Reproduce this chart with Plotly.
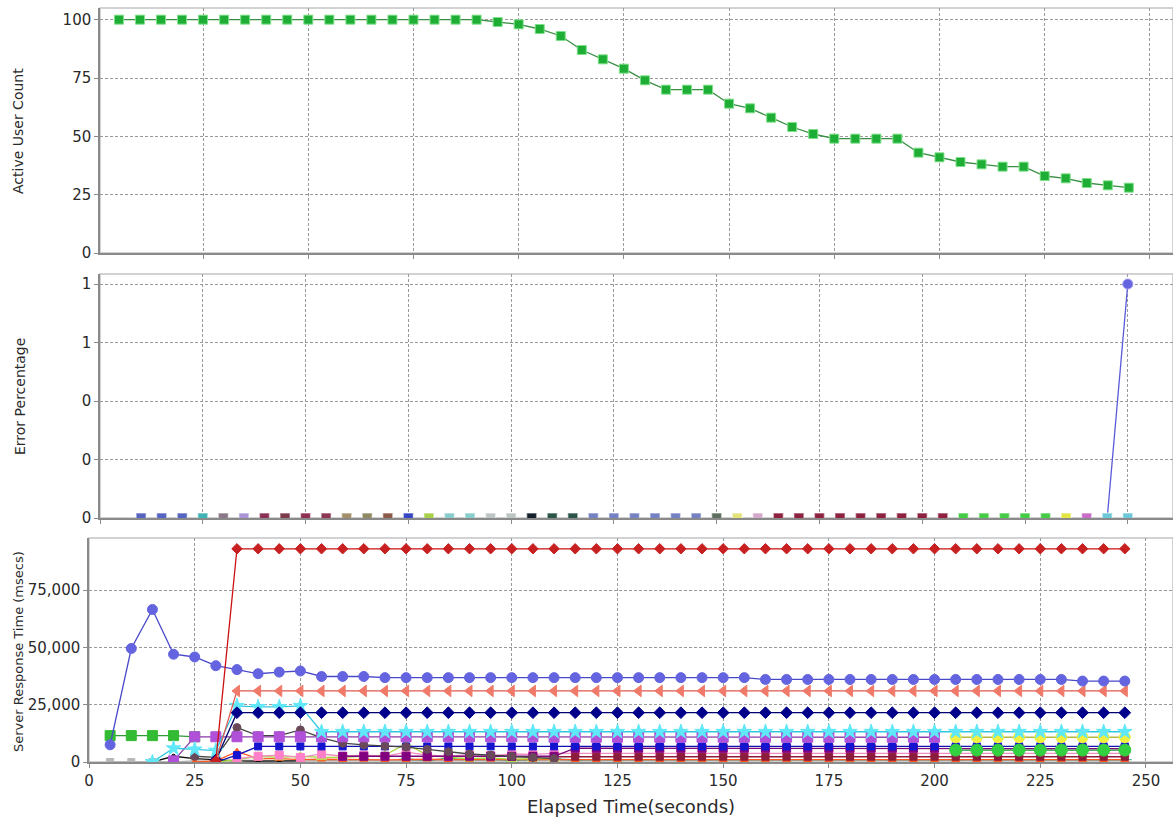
import plotly.graph_objects as go

# ---------------- data ----------------
TIME = [5, 10, 15, 20, 25, 30, 35, 40, 45, 50, 55, 60, 65, 70, 75, 80, 85, 90, 95, 100,
        105, 110, 115, 120, 125, 130, 135, 140, 145, 150, 155, 160, 165, 170, 175, 180,
        185, 190, 195, 200, 205, 210, 215, 220, 225, 230, 235, 240, 245]

ACTIVE_USERS = [100, 100, 100, 100, 100, 100, 100, 100, 100, 100, 100, 100, 100, 100, 100,
                100, 100, 100, 99, 98, 96, 93, 87, 83, 79, 74, 70, 70, 70, 64, 62, 58, 54,
                51, 49, 49, 49, 49, 43, 41, 39, 38, 37, 37, 33, 32, 30, 29, 28]

ERR_TIME = [10, 15, 20, 25, 30, 35, 40, 45, 50, 55, 60, 65, 70, 75, 80, 85, 90, 95, 100,
            105, 110, 115, 120, 125, 130, 135, 140, 145, 150, 155, 160, 165, 170, 175, 180,
            185, 190, 195, 200, 205, 210, 215, 220, 225, 230, 235, 240, 245, 250]
ERR_ZERO = [0, 0, 0, 0, 0, 0, 0, 0, 0, 0, 0, 0, 0, 0, 0, 0, 0, 0, 0, 0, 0, 0, 0, 0, 0,
            0, 0, 0, 0, 0, 0, 0, 0, 0, 0, 0, 0, 0, 0, 0, 0, 0, 0, 0, 0, 0, 0, 0, 0]
ERR_BLUE_X = [245, 250]
ERR_BLUE_Y = [0, 1]

RESP_BLUE_CIRCLE = [7500, 49500, 66500, 47000, 45800, 42000, 40300, 38500, 39200, 39700,
                    37300, 37300, 37300, 36800, 36800, 36800, 36800, 36800, 36800, 36800,
                    36800, 36800, 36800, 36800, 36800, 36800, 36800, 36800, 36800, 36800,
                    36800, 36000, 36000, 36000, 36000, 36000, 36000, 36000, 36000, 36000,
                    36000, 36000, 36000, 36000, 36000, 36000, 35300, 35300, 35300]
RESP_RED = [500, 93000, 93000, 93000, 93000, 93000, 93000, 93000, 93000, 93000, 93000,
            93000, 93000, 93000, 93000, 93000, 93000, 93000, 93000, 93000, 93000, 93000,
            93000, 93000, 93000, 93000, 93000, 93000, 93000, 93000, 93000, 93000, 93000,
            93000, 93000, 93000, 93000, 93000, 93000, 93000, 93000, 93000, 93000, 93000]
RESP_SALMON = [500, 31000, 31000, 31000, 31000, 31000, 31000, 31000, 31000, 31000, 31000,
               31000, 31000, 31000, 31000, 31000, 31000, 31000, 31000, 31000, 31000, 31000,
               31000, 31000, 31000, 31000, 31000, 31000, 31000, 31000, 31000, 31000, 31000,
               31000, 31000, 31000, 31000, 31000, 31000, 31000, 31000, 31000, 31000, 31000]
RESP_NAVY = [800, 21500, 21500, 21500, 21500, 21500, 21500, 21500, 21500, 21500, 21500,
             21500, 21500, 21500, 21500, 21500, 21500, 21500, 21500, 21500, 21500, 21500,
             21500, 21500, 21500, 21500, 21500, 21500, 21500, 21500, 21500, 21500, 21500,
             21500, 21500, 21500, 21500, 21500, 21500, 21500, 21500, 21500, 21500, 21500]
RESP_CYAN = [0, 6000, 5500, 5000, 24500, 24000, 24000, 24500, 13200, 13200, 13200, 13200,
             13200, 13200, 13200, 13200, 13200, 13200, 13200, 13200, 13200, 13200, 13200,
             13200, 13200, 13200, 13200, 13200, 13200, 13200, 13200, 13200, 13200, 13200,
             13200, 13200, 13200, 13200, 13200, 13200, 13200, 13200, 13200, 13200, 13200,
             13200, 13200]
RESP_PURPLE = [500, 11000, 11000, 11000, 11000, 11000, 11000, 11000, 11000, 11000, 11000,
               11000, 11000, 11000, 11000, 11000, 11000, 11000, 10800, 10800, 10800, 10800,
               10800, 10800, 10800, 10800, 10800, 10800, 10800, 10800, 10800, 10800, 10800,
               10800, 10800, 10800, 10800]
RESP_GREEN_SQ = [11500, 11500, 11500, 11500, 11000]
RESP_DARKGRAY = [2500, 2000, 15000, 11500, 11500, 14000, 10500, 8200, 7500, 7000, 6500,
                 5500, 4500, 3500, 3000, 2500, 2000, 1500]
RESP_BLUE_SQ = [0, 3000, 6800, 6800, 6800, 6800, 6800, 6800, 6800, 6800, 6800, 6800, 6800,
                6800, 6800, 6800, 6800, 6800, 6800, 6800, 6800, 6800, 6800, 6800, 6800, 6800,
                6800, 6800, 6800, 6800, 6800, 6800, 6800, 6800, 6800, 6800, 6800, 6800, 6800,
                6800, 6800, 6800, 6800, 6800]
RESP_DARKPURPLE = [2500, 2500, 2500, 2500, 2500, 2500, 2500, 2500, 2500, 2500, 2500, 6000,
                   6000, 6000, 6000, 6000, 6000, 6000, 6000, 6000, 6000, 6000, 6000, 6000,
                   6000, 6000, 6000, 6000, 6000, 5800, 5800, 5800, 5800, 5800, 5800, 5800,
                   5800, 5800]
RESP_GREEN_CIRCLE = [5200, 5200, 5200, 5200, 5200, 5200, 5200, 5200, 5200]
RESP_YELLOW = [10800, 10800, 10800, 10800, 10800, 10800, 10800, 10800, 10800]
RESP_MAROON = [2300, 2300, 2300, 2300, 2300, 2300, 2300, 2300, 2300, 2300, 2300, 2300,
               2300, 2300, 2300, 2300, 2300, 2300, 2300, 2300, 2300, 2300, 2300, 2300,
               2300, 2300, 2300, 2300, 2300, 2300]
RESP_PINK = [1500, 2500, 3000, 2000, 3500, 2500, 3000, 2500, 4300, 3000, 2500, 3200, 2800,
             3500, 3300, 3800, 3800, 3800, 3800, 3800, 3800, 3800, 3800, 3800, 3800, 3800,
             3800, 3800, 3800, 3800, 3800, 3800, 3800, 3800, 3800, 3800, 3800, 3800, 3800,
             3800, 3800, 3800, 3800]
RESP_ORANGE = [0, 500, 4500, 1500, 1500, 1000, 1200, 1000, 1100, 900, 1000, 1200, 1000,
               1000, 1100, 1000, 1000, 1000, 1000, 1000, 1000, 1000, 1000, 1000, 1000, 1000,
               1000, 1000, 1000, 1000, 1000, 1000, 1000, 1000, 1000, 1000, 1000, 1000, 1000,
               1000, 1000, 1000, 1000, 1000, 1000]
RESP_LIME = [0, 1000, 2500, 2000, 2500, 2000, 2000, 2500, 3000, 8000, 3000, 2000, 1500,
             1800, 1200, 1500, 1500]
RESP_TEAL = [1200, 800, 1500, 1000, 1200, 800, 1000, 1300, 900, 1100, 1000, 1000, 1000,
             1000, 1000, 1000, 1000, 1000, 1000, 1000, 1000, 1000, 1000, 1000, 1000, 1000,
             1000, 1000, 1000, 1000, 1000, 1000, 1000, 1000, 1000]
RESP_GRAY = [0, 0, 0, 0, 500, 300, 800, 600, 700, 500, 600, 800, 700, 600, 500, 600, 700,
             600, 500, 600, 700, 600, 500, 600, 700, 600, 500, 600, 700, 600, 500, 600, 700,
             600, 500, 600, 700, 600, 500, 600, 700, 600, 500, 600, 700, 600, 500, 600, 700]
RESP_BLACK = [0, 2500, 1500, 1000, 500, 400, 600, 500]

TOP_TICKS = [0, 25, 50, 75, 100]
ERR_TICKS = [0, 0.25, 0.5, 0.75, 1]
ERR_TICK_TEXT = ["0", "0", "0", "1", "1"]
RESP_TICKS = [0, 25000, 50000, 75000]
X_TICKS = [0, 25, 50, 75, 100, 125, 150, 175, 200, 225, 250]

# ---------------- styles ----------------
ERR_ZERO_COLORS = ["#5563c1", "#5563c1", "#5563c1", "#3fb3b3", "#8a7888", "#a995d6",
                   "#8c2f55", "#7d3a4a", "#8e2f52", "#8e3552", "#a39068", "#8f8a62",
                   "#8a5a48", "#3545c4", "#a8d048", "#88cccc", "#88cccc", "#bcc4c4",
                   "#bcc4c4", "#14202c", "#2a5548", "#2a5548", "#7482c4", "#7482c4",
                   "#7482c4", "#7482c4", "#7482c4", "#7482c4", "#5e6e5e", "#e4e47c",
                   "#d4a8cc", "#8e2040", "#8e2040", "#8e2040", "#8e2040", "#8e2040",
                   "#8e2040", "#8e2040", "#8e2040", "#8e2040", "#44cc44", "#44cc44",
                   "#44cc44", "#44cc44", "#44cc44", "#e4e444", "#c86cc8", "#6cc8d8",
                   "#6cc8d8"]

FONT = "DejaVu Sans"
TXT = "#2a2a2a"
GRID = "#9a9a9a"
AXIS = "#8a8a8a"

fig = go.Figure()


def times_from(start, vals):
    out = [t for t in TIME if t >= start]
    return out[:len(vals)]


# ---- top: active users ----
fig.add_trace(go.Scatter(
    x=TIME, y=ACTIVE_USERS, mode="lines+markers", xaxis="x", yaxis="y",
    line=dict(color="#3a8f45", width=1.3),
    marker=dict(symbol="square", size=9, color="#1fae35",
                line=dict(color="#7fe08a", width=1)),
    showlegend=False))

# ---- middle: error percentage ----
fig.add_trace(go.Scatter(
    x=ERR_BLUE_X, y=ERR_BLUE_Y, mode="lines", xaxis="x2", yaxis="y2",
    line=dict(color="#5a5ad8", width=1.3), showlegend=False))
fig.add_trace(go.Scatter(
    x=ERR_TIME, y=ERR_ZERO, mode="markers", xaxis="x2", yaxis="y2",
    marker=dict(symbol="square", size=10, color=ERR_ZERO_COLORS,
                line=dict(color="rgba(255,255,255,0.45)", width=1.5)),
    showlegend=False))
fig.add_trace(go.Scatter(
    x=ERR_BLUE_X[1:], y=ERR_BLUE_Y[1:], mode="markers", xaxis="x2", yaxis="y2",
    marker=dict(symbol="circle", size=10, color="#6464e0",
                line=dict(color="#9a9aee", width=1)),
    showlegend=False))

# ---- bottom: response times ----
series = [
    # (start, values, line color, marker color, symbol, size)
    (5, RESP_GRAY, "#b0b0b0", "#b8b8b8", "square", 7),
    (75, RESP_TEAL, "#3aa088", "#3aa088", "line-ew-open", 10),
    (15, RESP_BLACK, "#101010", "#101010", "circle", 4),
    (25, RESP_ORANGE, "#ff5a20", "#ff5a20", "triangle-up", 7),
    (30, RESP_LIME, "#a8d840", "#b8e050", "triangle-up", 9),
    (35, RESP_PINK, "#f08cc0", "#ff80c8", "square", 8),
    (100, RESP_MAROON, "#8b1c3c", "#8b1c3c", "square", 7),
    (60, RESP_DARKPURPLE, "#7a0a7a", "#800080", "square", 8),
    (30, RESP_BLUE_SQ, "#1010b0", "#1515d0", "square", 7),
    (205, RESP_GREEN_CIRCLE, "#208a30", "#33d040", "circle", 12),
    (205, RESP_YELLOW, "#b8b840", "#f0f040", "circle", 11),
    (25, RESP_DARKGRAY, "#444444", "#6a4a5a", "circle", 8),
    (5, RESP_GREEN_SQ, "#2f9a3a", "#33bb33", "square", 10),
    (20, RESP_PURPLE, "#8a3aa8", "#b050d8", "square", 10),
    (15, RESP_CYAN, "#30c8e0", "#60e8f8", "star", 11),
    (30, RESP_NAVY, "#000070", "#00008a", "diamond", 9),
    (30, RESP_SALMON, "#e05a50", "#f07a6a", "triangle-left", 10),
    (5, RESP_BLUE_CIRCLE, "#4848c8", "#6464e0", "circle", 10),
    (30, RESP_RED, "#cc1010", "#c82020", "diamond", 8),
]
for start, vals, lc, mc, sym, sz in series:
    fig.add_trace(go.Scatter(
        x=times_from(start, vals), y=vals, mode="lines+markers", xaxis="x3", yaxis="y3",
        line=dict(color=lc, width=1.3),
        marker=dict(symbol=sym, size=sz, color=mc, line=dict(color=mc, width=1)),
        showlegend=False))

W, H = 1173, 819


def px_x(p):
    return p / W


def px_y(p):
    return 1 - p / H


common_x = dict(showgrid=True, gridcolor=GRID, griddash="3px,2px", gridwidth=1,
                showline=True, linecolor=AXIS, linewidth=1.5, zeroline=False,
                ticks="outside", ticklen=4, tickcolor=AXIS, tickvals=X_TICKS,
                automargin=False, tickfont=dict(family=FONT, size=15, color=TXT))
common_y = dict(showgrid=True, gridcolor=GRID, griddash="3px,2px", gridwidth=1,
                showline=True, linecolor=AXIS, linewidth=1.5, zeroline=False,
                ticks="outside", ticklen=4, tickcolor=AXIS, automargin=False,
                tickfont=dict(family=FONT, size=15, color=TXT))

fig.update_layout(
    width=W, height=H,
    margin=dict(l=0, r=0, t=0, b=0),
    paper_bgcolor="white", plot_bgcolor="white",
    font=dict(family=FONT, color=TXT),
    xaxis=dict(common_x, domain=[px_x(100), 1], range=[0.5, 255.5], anchor="y",
               showticklabels=False),
    yaxis=dict(common_y, domain=[px_y(253), px_y(8)], range=[0, 105], anchor="x",
               tickvals=TOP_TICKS),
    xaxis2=dict(common_x, domain=[px_x(100), 1], range=[0, 261], anchor="y2",
                showticklabels=False),
    yaxis2=dict(common_y, domain=[px_y(518), px_y(274)], range=[0, 1.043], anchor="x2",
                tickvals=ERR_TICKS, ticktext=ERR_TICK_TEXT),
    xaxis3=dict(common_x, domain=[px_x(89), 1], range=[0, 256.4], anchor="y3"),
    yaxis3=dict(common_y, domain=[px_y(762), px_y(538)], range=[0, 97700], anchor="x3",
                tickvals=RESP_TICKS, tickformat=","),
)

for xa, ya in (("x", "y"), ("x2", "y2"), ("x3", "y3")):
    fig.add_shape(type="rect", xref=xa + " domain", yref=ya + " domain",
                  x0=0, x1=1, y0=0, y1=1, line=dict(color="#c4c4c4", width=1.5),
                  layer="below")

titles = [("Active User Count", 18, 131, 14), ("Error Percentage", 20, 397, 14),
          ("Server Response Time (msecs)", 18, 652, 13)]
for text, xp, yp, fs in titles:
    fig.add_annotation(text=text, x=px_x(xp), y=px_y(yp), xref="paper", yref="paper",
                       textangle=-90, showarrow=False, xanchor="center", yanchor="middle",
                       font=dict(family=FONT, size=fs, color=TXT))
fig.add_annotation(text="Elapsed Time(seconds)", x=px_x(631), y=px_y(806), xref="paper",
                   yref="paper", showarrow=False, xanchor="center", yanchor="middle",
                   font=dict(family=FONT, size=18, color=TXT))

fig.write_html("out.html", config={"displayModeBar": False},
               post_script="document.body.style.margin='0';")
